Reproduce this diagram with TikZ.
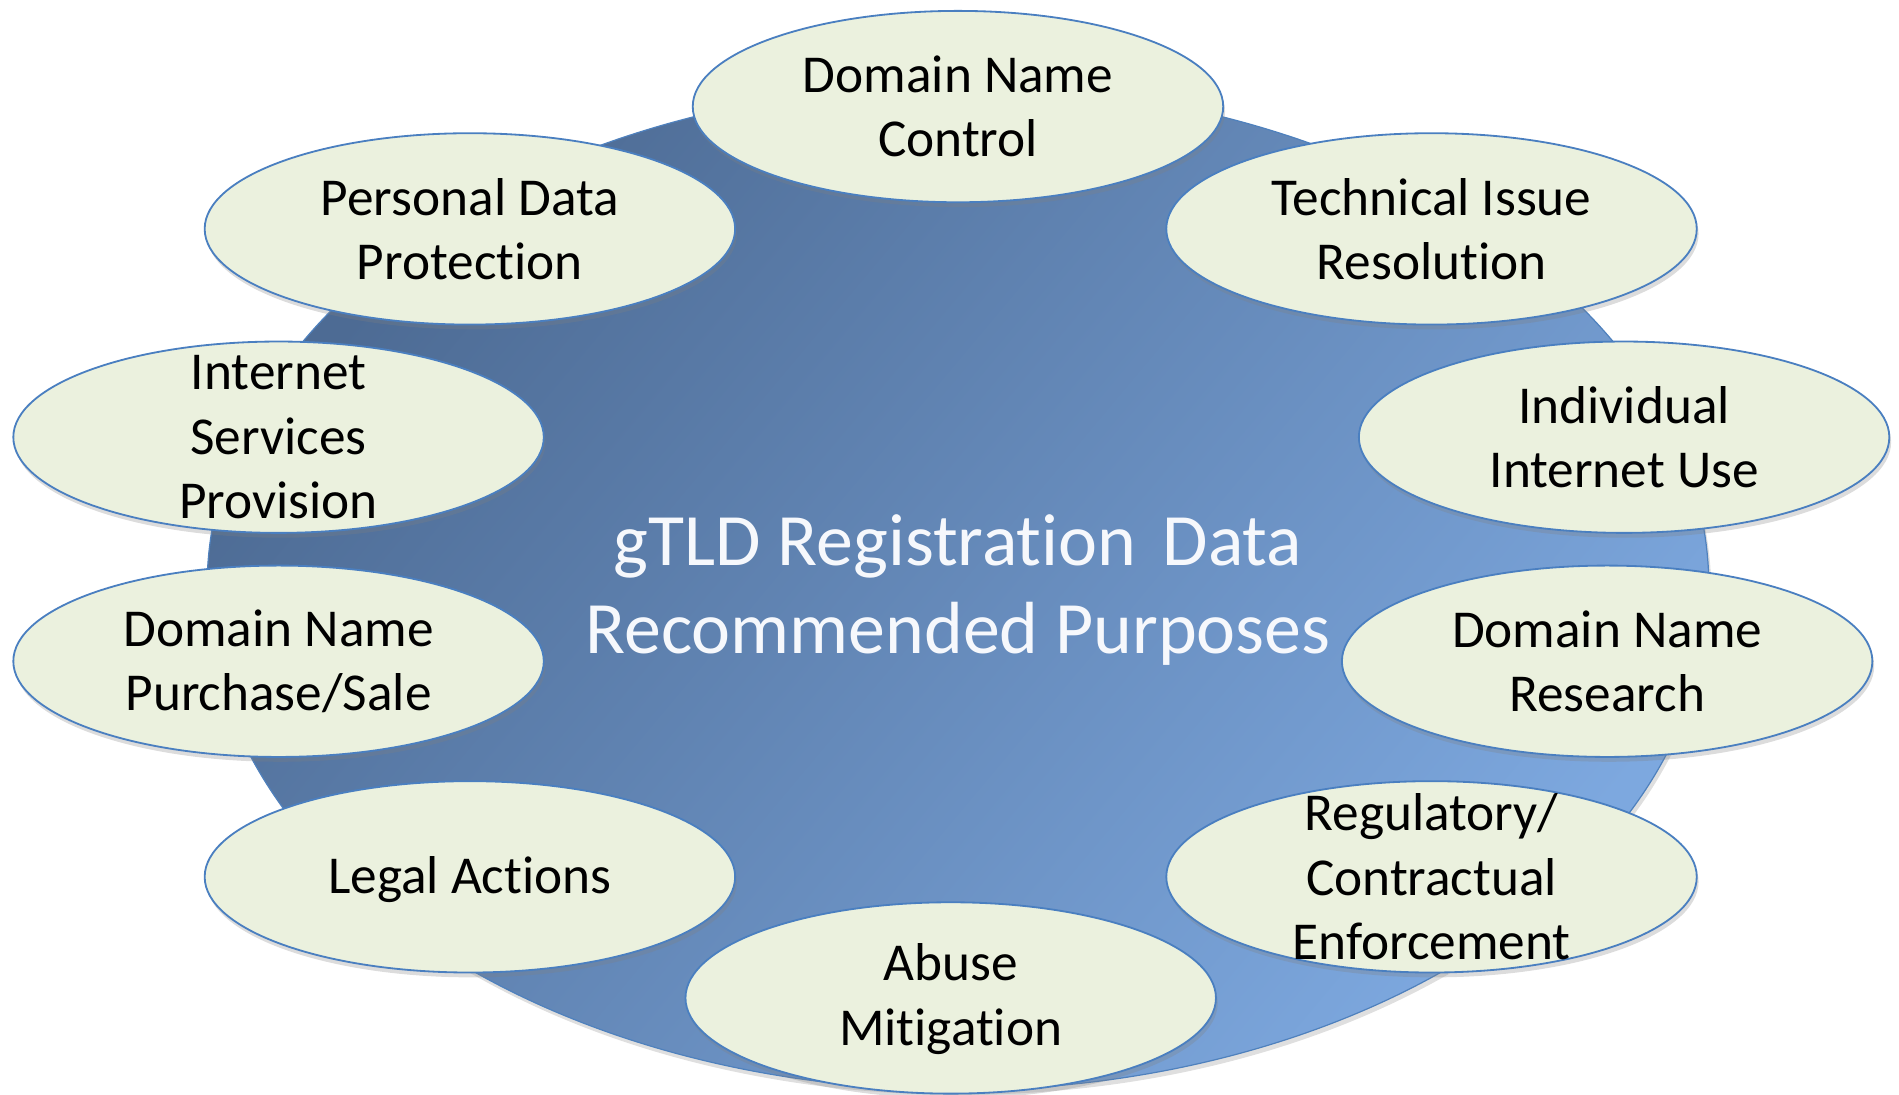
\documentclass[tikz,border=0pt]{standalone}
\usepackage{fontspec}
\setmainfont{Carlito}[Ligatures={NoCommon,NoContextual,NoRequired},Contextuals=NoAlternate]
\usetikzlibrary{shapes.geometric,shadows}
\newcommand\nolig{\kern0pt{}}
\definecolor{bigdark}{HTML}{4D6B94}
\definecolor{biglight}{HTML}{7DA8DF}
\definecolor{bigedge}{HTML}{4F81BD}
\definecolor{bubblefill}{HTML}{EBF1DE}
\definecolor{bubbleedge}{HTML}{4A7FC0}
\definecolor{centertext}{HTML}{F6F8FC}
\tikzset{
  bigoval/.style={ellipse, inner sep=0pt, minimum width=1240pt, minimum height=830pt,
    top color=bigdark, bottom color=biglight, shading angle=50,
    draw=bigedge, line width=1pt,
    drop shadow={shadow xshift=2pt, shadow yshift=-4pt, opacity=0.25}},
  bubble/.style={ellipse, inner sep=0pt, minimum width=438pt, minimum height=158pt,
    fill=bubblefill, draw=bubbleedge, line width=1.5pt,
    drop shadow={shadow xshift=1.5pt, shadow yshift=-4pt, opacity=0.28}},
  lbl/.style={align=center, inner sep=0pt, text=black,
    font=\fontsize{44}{53}\selectfont},
  titletext/.style={align=center, inner sep=0pt, text=centertext,
    font=\fontsize{61}{73}\selectfont}
}
\begin{document}
\begin{tikzpicture}[x=1pt, y=-1pt]
\useasboundingbox (0,0) rectangle (1568,904);
\node[bigoval] (big) at (791,485) {};
\node[titletext] (title) at (791,487) {gTLD Registrat\nolig ion\hspace{0.36em}Data\\Recommended Purposes};

\node[bubble] (dnc) at (791,88) {};
\node[lbl] (dnct) at (dnc) {Domain Name\\Control};

\node[bubble] (pdp) at (388,189) {};
\node[lbl] (pdpt) at (pdp) {Personal Data\\Protect\nolig ion};

\node[bubble] (tir) at (1182,189) {};
\node[lbl] (tirt) at (tir) {Technical Issue\\Resolut\nolig ion};

\node[bubble] (isp) at (230,361) {};
\node[lbl] (ispt) at (isp) {Internet\\Services\\Provision};

\node[bubble] (iiu) at (1341,361) {};
\node[lbl] (iiut) at (iiu) {Individual\\Internet Use};

\node[bubble] (dnps) at (230,546) {};
\node[lbl] (dnpst) at (dnps) {Domain Name\\Purchase/Sale};

\node[bubble] (dnr) at (1327,546) {};
\node[lbl] (dnrt) at (dnr) {Domain Name\\Research};

\node[bubble] (la) at (388,724) {};
\node[lbl] (lat) at ([yshift=-2pt]la.center) {Legal Act\nolig ions};

\node[bubble] (rce) at (1182,724) {};
\node[lbl] (rcet) at (rce) {Regulatory/\\Contractual\\Enforcement};

\node[bubble] (am) at (785,824) {};
\node[lbl] (amt) at ([yshift=-1pt]am.center) {Abuse\\Mit\nolig igat\nolig ion};
\end{tikzpicture}
\end{document}
